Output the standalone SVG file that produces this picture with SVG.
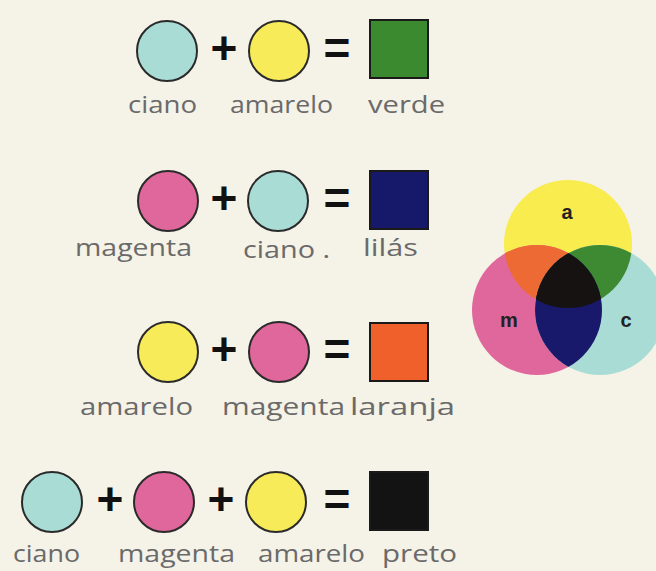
<svg xmlns="http://www.w3.org/2000/svg" width="656" height="571" viewBox="0 0 656 571">
<defs>
<style>
.bg{fill:#f5f2e7}
.c{stroke:#2a2a2a;stroke-width:2}
.cy{fill:#a9dcd5}
.ye{fill:#f7eb5a}
.ma{fill:#e0679b}
.sq{stroke:#1a1a1a;stroke-width:2}
.lbl{font-family:"Open Sans","Noto Sans",sans-serif;font-size:24px;fill:#6a6a6a}
.op{font-family:"Liberation Sans",Arial,sans-serif;font-weight:bold;font-size:46px;fill:#111;text-anchor:middle}
.vl{font-family:"Liberation Sans",Arial,sans-serif;font-weight:bold;font-size:20px;fill:#222;text-anchor:middle}
</style>
<clipPath id="clipY"><circle cx="568" cy="244" r="64"/></clipPath>
<clipPath id="clipM"><circle cx="537" cy="310" r="65"/></clipPath>
<clipPath id="clipC"><circle cx="600" cy="310" r="65"/></clipPath>
</defs>
<rect class="bg" x="0" y="0" width="656" height="571"/>

<g id="row1">
<circle class="c cy" cx="167" cy="51" r="30"/>
<text class="op" x="224" y="64">+</text>
<circle class="c ye" cx="279" cy="51" r="30"/>
<text class="op" x="337" y="64">=</text>
<rect class="sq" x="370" y="20" width="58" height="58" fill="#3b8a30"/>
<text class="lbl" x="128" y="113" textLength="69" lengthAdjust="spacingAndGlyphs">ciano</text>
<text class="lbl" x="230" y="113" textLength="103" lengthAdjust="spacingAndGlyphs">amarelo</text>
<text class="lbl" x="368" y="113" textLength="77" lengthAdjust="spacingAndGlyphs">verde</text>
</g>

<g id="row2">
<circle class="c ma" cx="168" cy="201" r="30"/>
<text class="op" x="224" y="214">+</text>
<circle class="c cy" cx="278" cy="201" r="30"/>
<text class="op" x="337" y="214">=</text>
<rect class="sq" x="370" y="171" width="58" height="58" fill="#16196a"/>
<text class="lbl" x="75" y="256" textLength="117" lengthAdjust="spacingAndGlyphs">magenta</text>
<text class="lbl" x="243" y="258" textLength="87" lengthAdjust="spacingAndGlyphs">ciano .</text>
<text class="lbl" x="363" y="256" textLength="55" lengthAdjust="spacingAndGlyphs">lilás</text>
</g>

<g id="row3">
<circle class="c ye" cx="168" cy="352" r="30"/>
<text class="op" x="224" y="365">+</text>
<circle class="c ma" cx="279" cy="352" r="30"/>
<text class="op" x="337" y="365">=</text>
<rect class="sq" x="370" y="323" width="58" height="58" fill="#f0602b"/>
<text class="lbl" x="80" y="415" textLength="113" lengthAdjust="spacingAndGlyphs">amarelo</text>
<text class="lbl" x="222" y="415" textLength="123" lengthAdjust="spacingAndGlyphs">magenta</text>
<text class="lbl" x="350" y="415" textLength="105" lengthAdjust="spacingAndGlyphs">laranja</text>
</g>

<g id="row4">
<circle class="c cy" cx="52" cy="502" r="30"/>
<text class="op" x="110" y="515">+</text>
<circle class="c ma" cx="164" cy="502" r="30"/>
<text class="op" x="221" y="515">+</text>
<circle class="c ye" cx="276" cy="502" r="30"/>
<text class="op" x="337" y="515">=</text>
<rect class="sq" x="370" y="472" width="58" height="58" fill="#131313"/>
<text class="lbl" x="13" y="562" textLength="67" lengthAdjust="spacingAndGlyphs">ciano</text>
<text class="lbl" x="118" y="562" textLength="117" lengthAdjust="spacingAndGlyphs">magenta</text>
<text class="lbl" x="258" y="562" textLength="107" lengthAdjust="spacingAndGlyphs">amarelo</text>
<text class="lbl" x="382" y="562" textLength="75" lengthAdjust="spacingAndGlyphs">preto</text>
</g>

<g id="venn">
<circle cx="568" cy="244" r="64" fill="#f8ec4f"/>
<circle cx="537" cy="310" r="65" fill="#e0679b"/>
<circle cx="600" cy="310" r="65" fill="#a9dcd5"/>
<g clip-path="url(#clipY)">
<circle cx="537" cy="310" r="65" fill="#ee6a34"/>
<circle cx="600" cy="310" r="65" fill="#3e8a32"/>
</g>
<g clip-path="url(#clipM)">
<circle cx="600" cy="310" r="65" fill="#19196c"/>
</g>
<g clip-path="url(#clipM)">
<g clip-path="url(#clipC)">
<circle cx="568" cy="244" r="64" fill="#161212"/>
</g>
</g>
<text class="vl" x="567" y="219">a</text>
<text class="vl" x="509" y="327">m</text>
<text class="vl" x="626" y="327">c</text>
</g>
</svg>
